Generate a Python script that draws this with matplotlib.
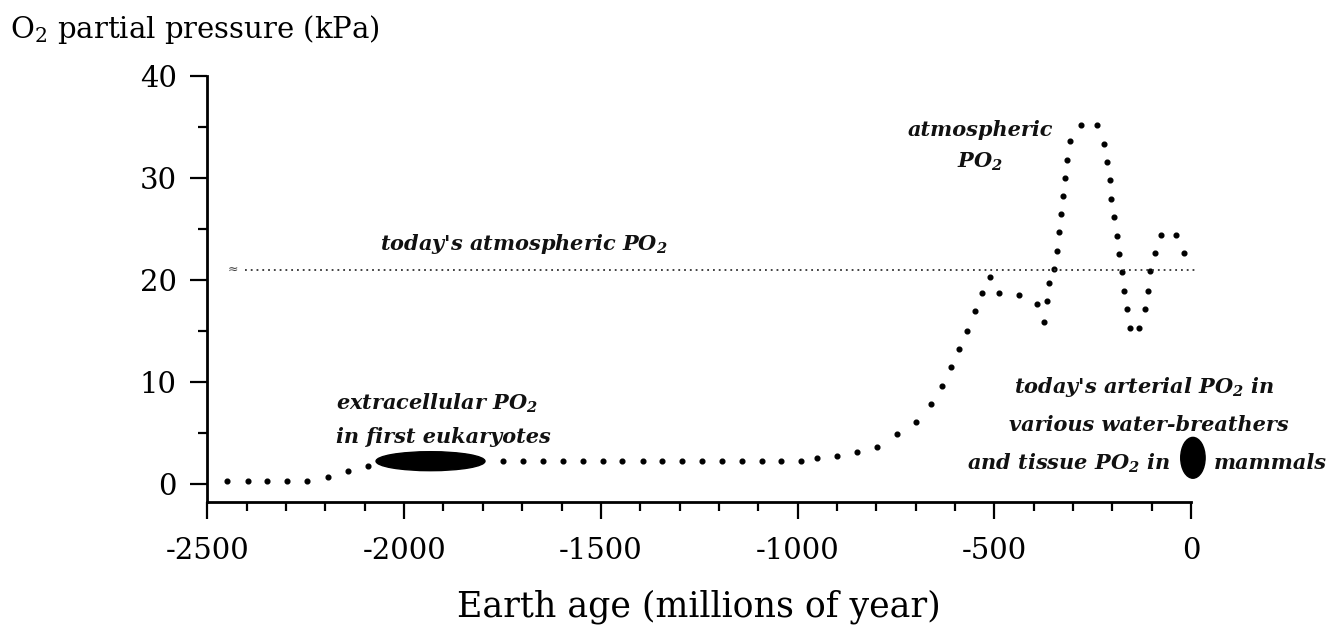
import matplotlib
matplotlib.use("Agg")
import matplotlib.pyplot as plt
from matplotlib.patches import Ellipse
from matplotlib.ticker import MultipleLocator

plt.rcParams['font.family'] = ['DejaVu Serif']
plt.rcParams['mathtext.default'] = 'regular'
plt.rcParams['axes.unicode_minus'] = False

# atmospheric PO2 dotted curve (millions of years, kPa)
age_early = [-2451, -2398, -2348, -2299, -2248, -2194, -2144, -2092]
po2_early = [0.29, 0.29, 0.29, 0.29, 0.29, 0.72, 1.32, 1.76]

age_late = [-1749, -1699, -1648, -1597, -1546, -1495, -1445, -1394, -1344, -1295,
            -1244, -1193, -1142, -1091, -1041, -991, -951, -900, -848, -797,
            -748, -699, -661, -634, -611, -589, -569, -550, -530, -510,
            -489, -438, -392, -373, -366, -362, -348, -341, -335, -331,
            -325, -320, -316, -308, -280, -240, -222, -213, -207, -202,
            -196, -187, -182, -176, -170, -163, -155, -131, -117, -110,
            -104, -92, -77, -38, -17]
po2_late = [2.3, 2.3, 2.3, 2.3, 2.3, 2.3, 2.3, 2.3, 2.3, 2.3,
            2.3, 2.3, 2.3, 2.3, 2.3, 2.3, 2.6, 2.76, 3.17, 3.66,
            4.87, 6.05, 7.84, 9.64, 11.44, 13.26, 15.03, 16.93, 18.73, 20.29,
            18.73, 18.53, 17.65, 15.91, 17.94, 19.74, 21.05, 22.84, 24.64, 26.44,
            28.17, 29.97, 31.76, 33.56, 35.13, 35.13, 33.3, 31.54, 29.74, 27.94,
            26.15, 24.31, 22.52, 20.75, 18.95, 17.16, 15.26, 15.26, 17.16, 18.95,
            20.91, 22.62, 24.41, 24.41, 22.62]

# today's atmospheric PO2 reference line
today_po2 = 21.0
today_line_x = [-2405, 10]

# filled ellipses: (centre age, centre PO2, width in Myr, height in kPa)
euk_blob = (-1933, 2.24, 277, 1.86)
mammal_blob = (5, 2.57, 62, 4.0)

xticks = [-2500, -2000, -1500, -1000, -500, 0]
yticks = [0, 10, 20, 30, 40]

fig = plt.figure(figsize=(13.35, 6.37), dpi=100)
ax = fig.add_axes([0.1554, 0.2119, 0.7367, 0.6693])

ax.plot(age_early, po2_early, linestyle='none', marker='o', ms=3.4, color='black')
ax.plot(age_late, po2_late, linestyle='none', marker='o', ms=3.4, color='black')
ax.plot(today_line_x, [today_po2, today_po2], linestyle=(0, (1, 2.2)), lw=1.3,
        color='#333333', clip_on=False)
ax.text(-2435, today_po2, '≈', fontsize=9, color='#444444', ha='center', va='center',
        family='DejaVu Sans')

for (cx, cy, w, h) in (euk_blob, mammal_blob):
    ax.add_patch(Ellipse((cx, cy), w, h, facecolor='black', edgecolor='black',
                         clip_on=False, zorder=3))

ax.set_xlim(-2500, 0)
ax.set_ylim(-1.76, 40)
ax.set_xticks(xticks)
ax.set_yticks(yticks)
ax.xaxis.set_minor_locator(MultipleLocator(100))
ax.yaxis.set_minor_locator(MultipleLocator(5))
ax.tick_params(which='major', direction='out', length=12, width=1.6, labelsize=21, pad=10)
ax.tick_params(which='minor', direction='out', length=6.5, width=1.6)
ax.tick_params(axis='x', which='major', pad=13)
for s in ('top', 'right'):
    ax.spines[s].set_visible(False)
for s in ('left', 'bottom'):
    ax.spines[s].set_linewidth(2.0)

ax.set_xlabel('Earth age (millions of year)', fontsize=25, labelpad=18)
fig.text(0.0075, 0.953, 'O$_2$ partial pressure (kPa)', fontsize=21, ha='left', va='center')

ann = dict(fontsize=15, style='italic', weight='bold', color='#111111')
ax.text(-1695, 23.5, "today's atmospheric PO$_2$", ha='center', va='center', **ann)
ax.text(-536, 34.7, 'atmospheric', ha='center', va='center', **ann)
ax.text(-536, 31.6, 'PO$_2$', ha='center', va='center', **ann)
ax.text(-2172, 7.9, 'extracellular PO$_2$', ha='left', va='center', **ann)
ax.text(-2172, 4.6, 'in first eukaryotes', ha='left', va='center', **ann)
ax.text(-119, 9.54, "today's arterial PO$_2$ in", ha='center', va='center', **ann)
ax.text(-107, 5.78, 'various water-breathers', ha='center', va='center', **ann)
ax.text(-53, 2.06, 'and tissue PO$_2$ in', ha='right', va='center', **ann)
ax.text(58, 2.06, 'mammals', ha='left', va='center', clip_on=False, **ann)

fig.savefig('out.png', dpi=100)
